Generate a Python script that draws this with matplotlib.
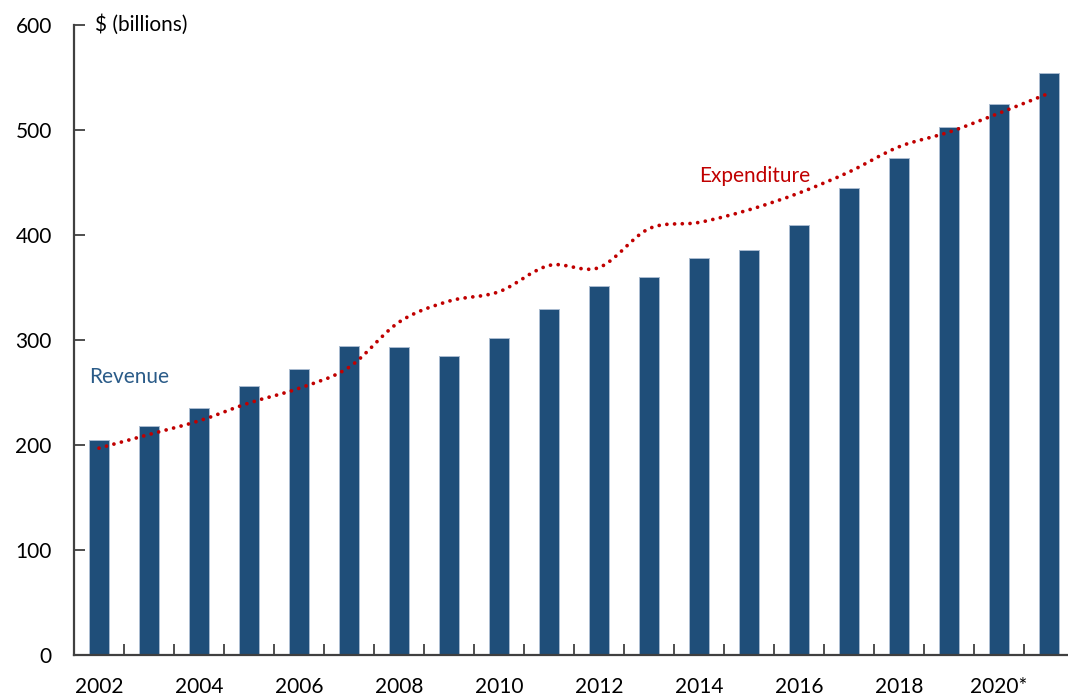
import matplotlib
matplotlib.use("Agg")
import matplotlib.pyplot as plt
from matplotlib.path import Path
from matplotlib.patches import PathPatch
from matplotlib.ticker import FixedLocator
import matplotlib.transforms as mtransforms

# data
years = list(range(2002, 2022))
revenue = [205, 218, 235, 256, 272, 294, 293, 285, 302, 330,
           351, 360, 378, 386, 410, 445, 473, 503, 525, 554]
expenditure = [197, 210, 223, 240, 254, 274, 317, 337, 346, 371,
               369, 406, 412, 424, 440, 460, 484, 498, 516, 535]
label_years = list(range(2002, 2021, 2))
tick_labels = ["2002", "2004", "2006", "2008", "2010",
               "2012", "2014", "2016", "2018", "2020*"]

plt.rcParams['font.family'] = ['Lato', 'DejaVu Sans']

BAR = "#1F4E79"
RED = "#C00000"

fig = plt.figure(figsize=(10.68, 6.98), dpi=100)
ax = fig.add_axes([74/1068, 43/698, 1 - 74/1068, 630/698])

ax.bar(years, revenue, width=0.4, color=BAR, edgecolor="#A9BBD0", linewidth=0.7, zorder=2)

# smoothed expenditure line (catmull-rom -> cubic bezier, like a smoothed office chart)
pts = list(zip(years, expenditure))
verts = [pts[0]]
codes = [Path.MOVETO]
for i in range(len(pts) - 1):
    p0 = pts[i - 1] if i > 0 else pts[i]
    p1 = pts[i]
    p2 = pts[i + 1]
    p3 = pts[i + 2] if i + 2 < len(pts) else pts[i + 1]
    c1 = (p1[0] + (p2[0] - p0[0]) / 6, p1[1] + (p2[1] - p0[1]) / 6)
    c2 = (p2[0] - (p3[0] - p1[0]) / 6, p2[1] - (p3[1] - p1[1]) / 6)
    verts += [c1, c2, p2]
    codes += [Path.CURVE4] * 3
line = PathPatch(Path(verts, codes), fill=False, edgecolor=RED, linewidth=2.7,
                 linestyle=(0, (0.01, 2.05)), capstyle='round', zorder=3)
ax.add_patch(line)

ax.set_xlim(2001.5, 2021.38)
ax.set_ylim(0, 600)

for s in ["top", "right"]:
    ax.spines[s].set_visible(False)
for s in ["left", "bottom"]:
    ax.spines[s].set_color("#404040")
    ax.spines[s].set_linewidth(1.6)

ax.set_yticks(range(0, 601, 100))
ax.tick_params(axis="y", direction="in", length=8, width=1.3, color="#404040",
               labelsize=15, pad=16)

ax.set_xticks(label_years)
ax.set_xticklabels(tick_labels)
ax.xaxis.set_minor_locator(FixedLocator([y + 0.5 for y in years[:-1]]))
ax.tick_params(axis="x", which="major", length=0, labelsize=15, pad=16)
ax.tick_params(axis="x", which="minor", direction="in", length=8, width=1.3, color="#404040")

trans = mtransforms.blended_transform_factory(ax.transAxes, ax.transData)
ax.text(0.021, 600, "$ (billions)", transform=trans, fontsize=15, va="center", ha="left")

ax.text(2001.81, 265, "Revenue", color="#2A5B88", fontsize=15, va="center", ha="left")
ax.text(2014.01, 456, "Expenditure", color=RED, fontsize=15, va="center", ha="left")

fig.savefig("out.png", dpi=100)
